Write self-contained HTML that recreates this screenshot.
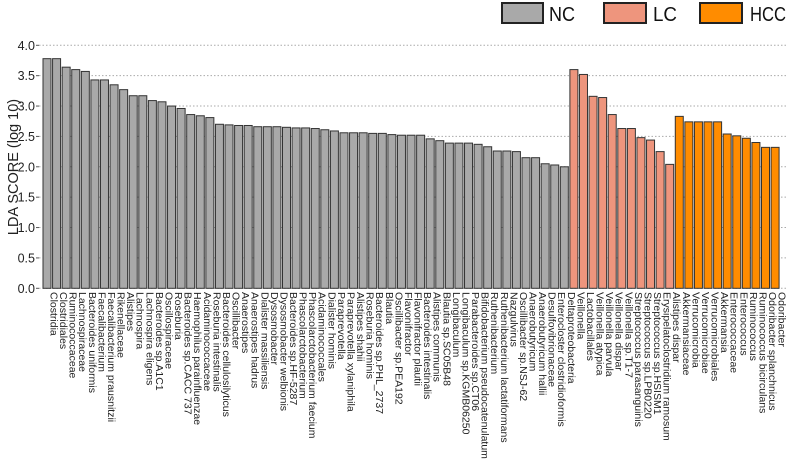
<!DOCTYPE html>
<html><head><meta charset="utf-8"><style>
html,body{margin:0;padding:0;background:#fff;width:787px;height:466px;overflow:hidden;font-family:"Liberation Sans",sans-serif}
</style></head><body>
<svg id="chart" width="787" height="466" xmlns="http://www.w3.org/2000/svg" font-family="Liberation Sans, sans-serif"></svg>
<script>
const categories = ["Clostridia","Clostridiales","Ruminococcaceae","Lachnospiraceae","Bacteroides uniformis","Faecalibacterium","Faecalibacterium prausnitzii","Rikenellaceae","Alistipes","Lachnospira","Lachnospira eligens","Bacteroides sp.A1C1","Oscillospiraceae","Roseburia","Bacteroides sp.CACC 737","Haemophilus parainfluenzae","Acidaminococcaceae","Roseburia intestinalis","Bacteroides cellulosilyticus","Oscillibacter","Anaerostipes","Anaerostipes hadrus","Dialister massiliensis","Dysosmobacter","Dysosmobacter welbionis","Bacteroides sp.HF-5287","Phascolarctobacterium","Phascolarctobacterium faecium","Acidaminococcales","Dialister hominis","Paraprevotella","Paraprevotella xylaniphila","Alistipes shahii","Roseburia hominis","Bacteroides sp.PHL_2737","Blautia","Oscillibacter sp.PEA192","Flavonifractor","Flavonifractor plautii","Bacteroides intestinalis","Alistipes communis","Blautia sp.SC05B48","Longibaculum","Longibaculum sp.KGMB06250","Parabacteroides sp.CT06","Bifidobacterium pseudocatenulatum","Ruthenibacterium","Ruthenibacterium lactatiformans","Nazgulvirus","Oscillibacter sp.NSJ-62","Anaerobutyricum","Anaerobutyricum hallii","Desulfovibrionaceae","Enterocloster clostridioformis","Deltaproteobacteria",
"Veillonella","Lactobacillales","Veillonella atypica","Veillonella parvula","Veillonella dispar","Veillonella sp.T1-7","Streptococcus parasanguinis","Streptococcus sp.LPB0220","Streptococcus sp.HSISM1","Erysipelatoclostridium ramosum","Alistipes dispar",
"Akkermansiaceae","Verrucomicrobia","Verrucomicrobiae","Verrucomicrobiales","Akkermansia","Enterococcaceae","Enterococcus","Ruminococcus","Ruminococcus bicirculans","Odoribacter splanchnicus","Odoribacter"];
const ncValues = [3.78,3.78,3.64,3.60,3.57,3.43,3.43,3.35,3.27,3.17,3.17,3.09,3.07,3.00,2.96,2.86,2.84,2.81,2.70,2.69,2.68,2.68,2.66,2.66,2.66,2.65,
2.64,2.64,2.63,2.61,2.59,2.56,2.56,2.56,2.55,2.55,2.53,2.52,2.52,2.52,2.46,2.43,2.39,2.39,2.39,2.37,2.33,2.26,2.26,2.25,2.15,2.15,2.05,2.03,2.00];
const lcValues = [3.60,3.52,3.16,3.14,2.86,2.63,2.63,2.48,2.44,2.25,2.04];
const hccValues = [2.83,2.74,2.74,2.74,2.74,2.54,2.51,2.47,2.40,2.32,2.32];
const yTicks = ["0.0","0.5","1.0","1.5","2.0","2.5","3.0","3.5","4.0"];
const groups = ["NC","LC","HCC"];

const NS="http://www.w3.org/2000/svg";
const svg=document.getElementById('chart');
const x0=39, x1=787, yBase=288.3, pxPerUnit=60.75, firstBar=43, pitch=9.58, barW=8;
const yScale=v=>yBase-v*pxPerUnit;
const xScale=i=>firstBar+i*pitch;
function mk(tag,attrs){const e=document.createElementNS(NS,tag);for(const k in attrs)e.setAttribute(k,attrs[k]);svg.appendChild(e);return e;}

yTicks.forEach(t=>{
  const y=yScale(parseFloat(t));
  const g=mk('line',{x1:x0,x2:x1,y1:y,y2:y,stroke:'#aaa','stroke-width':1,'stroke-dasharray':'1.5,2'});
  
  
  const tk=mk('line',{x1:x0-3,x2:x0,y1:y,y2:y,stroke:'#555'});
  
  
  const tx=mk('text',{x:x0-4,y:y+4.5,'text-anchor':'end','font-size':12.5,fill:'#222'});
  tx.textContent=t;
  
  
});
const yt=mk('text',{x:0,y:0,transform:'translate(18,167) rotate(-90)','text-anchor':'middle','font-size':14.5,fill:'#222'});
yt.textContent='LDA SCORE (log 10)';



const all=[].concat(ncValues.map(v=>[v,'#a9a9a9']),lcValues.map(v=>[v,'#ee957d']),hccValues.map(v=>[v,'#ff8c00']));
all.forEach((d,i)=>{
  const x=xScale(i), y=yScale(d[0]);
  const r=mk('rect',{x:x,y:y,width:barW,height:yBase-y,fill:d[1],stroke:'#333','stroke-width':1});
  
  
  const cx=x+barW/2+3.5;
  const t=mk('text',{x:0,y:0,transform:`translate(${cx},292) rotate(90)`,'font-size':10.5,fill:'#222'});
  t.textContent=categories[i];
  
  
});

const legend=[["#a9a9a9",502,543,549,26],["#ee957d",604,646,653,24],["#ff8c00",700,742,750,36]];
legend.forEach((l,i)=>{
  const r=mk('rect',{x:l[1],y:3,width:l[2]-l[1],height:20,fill:l[0],stroke:'#222','stroke-width':2});
  
  
  const t=mk('text',{x:l[3],y:21,'font-size':20,fill:'#111',textLength:l[4],lengthAdjust:'spacingAndGlyphs'});
  t.textContent=groups[i];
  
  
});
</script>
</body></html>
